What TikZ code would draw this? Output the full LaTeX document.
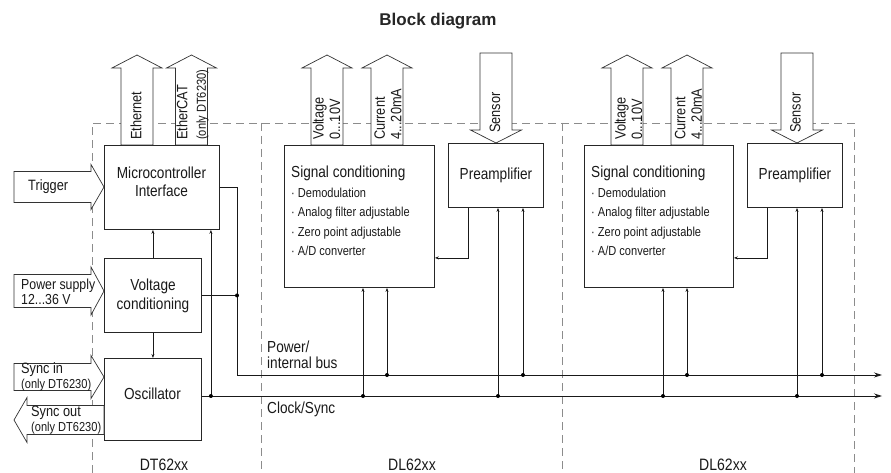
\documentclass[tikz,border=0pt]{standalone}
\usepackage{fontspec}
\setmainfont[FakeStretch=0.85]{Liberation Sans}
\newfontfamily\titlefont{Liberation Sans}
\usetikzlibrary{arrows.meta}

\newcommand{\onlydt}{{\fontsize{13}{15}\selectfont (only DT6230)}}

\tikzset{
  box/.style={draw=black!85, line width=0.9pt, inner sep=0pt, text=black!90,
    font=\fontsize{16}{19}\selectfont, align=center},
  cutline/.style={draw=black!45, line width=0.7pt, dash pattern=on 8pt off 5pt},
  wire/.style={draw=black!90, line width=0.8pt},
  feed/.style={wire, -{Stealth[length=4pt,width=3pt]}},
  bus/.style={wire, -{Stealth[length=8pt,width=5pt]}},
  dot/.style={circle, fill=black, inner sep=0pt, minimum size=4pt},
  lbl/.style={inner sep=0pt, text=black!90, font=\fontsize{15}{15}\selectfont, align=left},
  boxtxt/.style={lbl, font=\fontsize{16}{18}\selectfont, align=center},
  vlbl/.style={lbl, font=\fontsize{15}{16.5}\selectfont, rotate=90, anchor=west},
  smalltxt/.style={font=\fontsize{13}{15}\selectfont},
  pics/barrow/.style 2 args={code={
    \draw[draw=black!80, fill=white, line width=0.7pt]
      (-#1,0) -- (-#1,-77) -- ({-#1-#2},-77) -- (0,-90) -- ({#1+#2},-77) -- (#1,-77) -- (#1,0) -- cycle;
  }},
}

\begin{document}
\begin{tikzpicture}[x=1pt, y=-1pt]
\useasboundingbox (0,0) rectangle (891,473);

\node[font=\titlefont\bfseries\fontsize{17}{20}\selectfont, text=black!85] (title) at (438,21) {Block diagram};

% module borders
\draw[cutline] (92,473) -- (92,123) -- (854,123) -- (854,473);
\draw[cutline] (261,123) -- (261,473);
\draw[cutline] (562,123) -- (562,473);

% blocks
\node[box, minimum width=115, minimum height=84, anchor=north west] (mcu) at (104,145) {};
\node[boxtxt] (mcut) at (161.5,182) {Microcontroller\\Interface};
\node[box, minimum width=97, minimum height=74, anchor=north west] (vc) at (104,258) {Voltage\\conditioning};
\node[box, minimum width=97, minimum height=82, anchor=north west] (osc) at (104,358) {};
\node[boxtxt] (osct) at (152.5,394) {Oscillator};
\node[box, minimum width=150, minimum height=142, anchor=north west] (sc1) at (284,145) {};
\node[box, minimum width=95, minimum height=64, anchor=north west] (pre1) at (448,143) {Preamplifier};
\node[box, minimum width=149, minimum height=142, anchor=north west] (sc2) at (584,145) {};
\node[box, minimum width=95, minimum height=64, anchor=north west] (pre2) at (747,143) {Preamplifier};

\node[lbl, font=\fontsize{16}{19}\selectfont, anchor=base west] (sc1h) at (291,178) {Signal conditioning};
\node[lbl, font=\fontsize{16}{19}\selectfont, anchor=base west] (sc2h) at (591,178) {Signal conditioning};
\foreach \t [count=\i] in {Demodulation, Analog filter adjustable, Zero point adjustable, A/D converter} {
  \node[lbl, smalltxt, anchor=base west] (sc1-\i) at (291,{178+19.4*\i}) {· \t};
  \node[lbl, smalltxt, anchor=base west] (sc2-\i) at (591,{178+19.4*\i}) {· \t};
}

% block arrows
\pic at (137,145) {barrow={16}{9}};
\pic at (191.5,145) {barrow={16}{9}};
\pic at (327,145) {barrow={16}{9}};
\pic at (387,145) {barrow={16}{9}};
\pic at (627,145) {barrow={16}{9}};
\pic at (687,145) {barrow={16}{9}};
\pic[rotate=180] at (496,53) {barrow={16}{9.5}};
\pic[rotate=180] at (797,53) {barrow={16}{9.5}};
\pic[rotate=-90] at (14,187) {barrow={15.5}{7}};
\pic[rotate=-90] at (14,291) {barrow={16.5}{7.5}};
\pic[rotate=-90] at (14,377) {barrow={13.5}{8}};
\pic[rotate=90] at (104,420) {barrow={14.5}{8}};

\node[vlbl] (eth) at (136,140) {Ethernet};
\node[vlbl] (ecat) at (192.5,140) {EtherCAT\\[2pt]\onlydt};
\node[vlbl] (volt1) at (326.5,140) {Voltage\\0...10V};
\node[vlbl] (curr1) at (388,140) {Current\\4...20mA};
\node[vlbl] (volt2) at (628.5,140) {Voltage\\0...10V};
\node[vlbl] (curr2) at (688.5,140) {Current\\4...20mA};
\node[vlbl] (sens1) at (495,133) {Sensor};
\node[vlbl] (sens2) at (795.5,133) {Sensor};

\node[lbl, anchor=west] (trig) at (28,187) {Trigger};
\node[lbl, font=\fontsize{14.5}{15}\selectfont, anchor=west] (psup) at (21,292) {Power supply\\12...36 V};
\node[lbl, anchor=west] (syin) at (21,377) {Sync in\\\onlydt};
\node[lbl, anchor=west] (syout) at (31,420) {Sync out\\\onlydt};

% buses
\coordinate (pbL) at (237,375);
\coordinate (pbR) at (882,375);
\coordinate (cbR) at (882,396);
\draw[bus] (mcu.east) -| (pbL) -- (pbR);
\draw[bus] (osc.east |- cbR) -- (cbR);
\node[lbl, font=\fontsize{16}{16}\selectfont, anchor=west] (pbus) at (267,355) {Power/\\internal bus};
\node[lbl, font=\fontsize{16}{16}\selectfont, anchor=west] (cbus) at (267,409) {Clock/Sync};

% DT62xx wiring
\draw[wire] (vc.east) -- (vc.east -| pbL) node[dot] (j1) {};
\draw[feed] (vc.north) -- (vc.north |- mcu.south);
\draw[feed] (vc.south) -- (osc.north);
\coordinate (mtap) at ([xshift=-9pt]mcu.south east);
\draw[feed] (mtap |- cbR) node[dot] (j2) {} -- (mtap);

% DL62xx wiring
\coordinate (s1a) at ([xshift=79pt]sc1.south west);
\coordinate (s1b) at ([xshift=103pt]sc1.south west);
\coordinate (p1a) at ([xshift=20pt]pre1.south west);
\coordinate (p1b) at ([xshift=50pt]pre1.south west);
\coordinate (p1c) at ([xshift=75pt]pre1.south west);
\draw[feed] (s1a |- cbR) node[dot] (j3) {} -- (s1a);
\draw[feed] (s1b |- pbR) node[dot] (j4) {} -- (s1b);
\draw[feed] (p1b |- cbR) node[dot] (j5) {} -- (p1b);
\draw[feed] (p1c |- pbR) node[dot] (j6) {} -- (p1c);
\draw[feed] (p1a) |- ([yshift=30pt]sc1.south east);

\coordinate (s2a) at ([xshift=79pt]sc2.south west);
\coordinate (s2b) at ([xshift=103pt]sc2.south west);
\coordinate (p2a) at ([xshift=20pt]pre2.south west);
\coordinate (p2b) at ([xshift=50pt]pre2.south west);
\coordinate (p2c) at ([xshift=75pt]pre2.south west);
\draw[feed] (s2a |- cbR) node[dot] (j7) {} -- (s2a);
\draw[feed] (s2b |- pbR) node[dot] (j8) {} -- (s2b);
\draw[feed] (p2b |- cbR) node[dot] (j9) {} -- (p2b);
\draw[feed] (p2c |- pbR) node[dot] (j10) {} -- (p2c);
\draw[feed] (p2a) |- ([yshift=30pt]sc2.south east);

\node[lbl, font=\fontsize{16.5}{18}\selectfont] (dt) at (164,465) {DT62xx};
\node[lbl, font=\fontsize{16.5}{18}\selectfont] (dl1) at (412,465) {DL62xx};
\node[lbl, font=\fontsize{16.5}{18}\selectfont] (dl2) at (723,465) {DL62xx};
\end{tikzpicture}
\end{document}
